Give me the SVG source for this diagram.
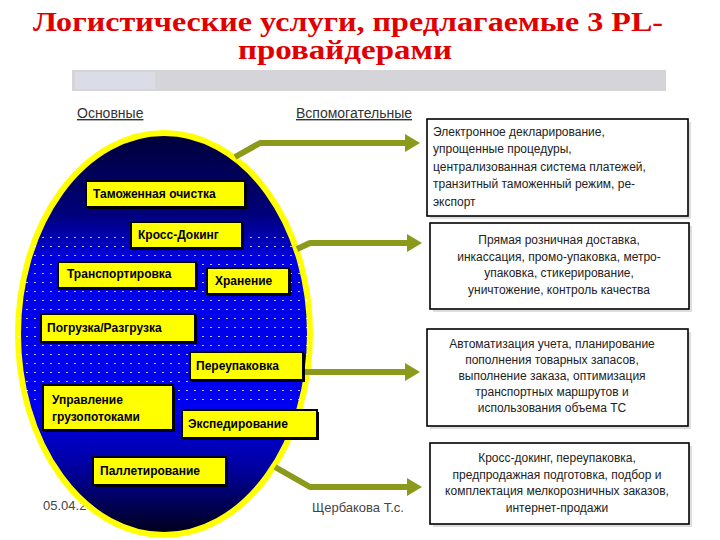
<svg xmlns="http://www.w3.org/2000/svg" width="720" height="540" viewBox="0 0 720 540">
<style>
.title{font-family:"Liberation Serif","Times New Roman",serif;font-weight:bold;font-size:28px;fill:#e00000;text-anchor:middle}
.hdr{font-family:"Liberation Sans",Arial,sans-serif;font-size:14px;fill:#333;text-decoration:underline}
.foot{font-family:"Liberation Sans",Arial,sans-serif;font-size:13px;fill:#444}
.nbox{fill:#ffff00;stroke:#000;stroke-width:2}
.nsh{fill:#000}
.ntxt{font-family:"Liberation Sans",Arial,sans-serif;font-weight:bold;font-size:12px;fill:#000}
.rbox{fill:#fff;stroke:#000;stroke-width:1.6}
.rsh{fill:#ddd}
.rtxt{font-family:"Liberation Sans",Arial,sans-serif;font-size:12px;fill:#222}
.c{text-anchor:middle}
.arr{fill:none;stroke:#8b9a1b;stroke-width:6;stroke-linejoin:round;marker-end:url(#ah)}
</style>
<defs>
<linearGradient id="eg" x1="0" y1="0" x2="0" y2="1">
<stop offset="0" stop-color="#000038"/>
<stop offset="0.2" stop-color="#00007a"/>
<stop offset="0.32" stop-color="#0000e6"/>
<stop offset="0.68" stop-color="#0000f0"/>
<stop offset="0.84" stop-color="#00009a"/>
<stop offset="1" stop-color="#000018"/>
</linearGradient>
<pattern id="dots" width="8" height="9" patternUnits="userSpaceOnUse">
<rect x="2" y="3" width="2" height="1" fill="#ffffff" opacity="0.75"/>
</pattern>
<clipPath id="ec"><ellipse cx="164" cy="334" rx="146" ry="201"/></clipPath>
<marker id="ah" markerUnits="userSpaceOnUse" markerWidth="18" markerHeight="20" refX="5" refY="9" orient="auto">
<path d="M0,0 L15,9 L0,18 Z" fill="#8b9a1b"/>
</marker>
</defs>
<rect width="720" height="540" fill="#fff"/>
<g id="title">
<text class="title" x="348" y="31" textLength="630" lengthAdjust="spacingAndGlyphs">Логистические услуги, предлагаемые 3 PL-</text>
<text class="title" x="345" y="59" textLength="214" lengthAdjust="spacingAndGlyphs">провайдерами</text>
</g>
<g id="bar">
<rect x="72" y="70" width="594" height="21" fill="#d5d5d9"/>
<rect x="75" y="72" width="80" height="17" fill="#dcdce6"/>
</g>
<g id="headers">
<text class="hdr" x="77" y="118">Основные</text>
<text class="hdr" x="296" y="118">Вспомогательные</text>
</g>
<text class="foot" x="43" y="510">05.04.2</text>
<g id="ellipse">
<ellipse cx="164" cy="334" rx="146" ry="201" fill="url(#eg)" stroke="#ffff00" stroke-width="6"/>
<rect x="10" y="232" width="310" height="175" fill="url(#dots)" clip-path="url(#ec)"/>
</g>
<text class="foot" x="312" y="512">Щербакова Т.с.</text>
<g id="connectors">
<polyline class="arr" points="235,157 260,143 410,143"/>
<polyline class="arr" points="297,249 310,243 412,243"/>
<polyline class="arr" points="304,372 410,372"/>
<polyline class="arr" points="275,467 310,487 412,487"/>
</g>
<g id="n1"><rect class="nsh" x="88" y="183" width="159" height="26"/><rect class="nbox" x="86" y="181" width="159" height="26"/><text class="ntxt" x="93" y="198">Таможенная очистка</text></g>
<g id="n2"><rect class="nsh" x="133" y="224" width="111" height="26"/><rect class="nbox" x="131" y="222" width="111" height="26"/><text class="ntxt" x="138" y="239">Кросс-Докинг</text></g>
<g id="n3"><rect class="nsh" x="60" y="264" width="138" height="26"/><rect class="nbox" x="58" y="262" width="138" height="26"/><text class="ntxt" x="67" y="278">Транспортировка</text></g>
<g id="n4"><rect class="nsh" x="209" y="270" width="82" height="26"/><rect class="nbox" x="207" y="268" width="82" height="26"/><text class="ntxt" x="215" y="285">Хранение</text></g>
<g id="n5"><rect class="nsh" x="43" y="316" width="154" height="28"/><rect class="nbox" x="41" y="314" width="154" height="28"/><text class="ntxt" x="47" y="332">Погрузка/Разгрузка</text></g>
<g id="n6"><rect class="nsh" x="192" y="354" width="113" height="28"/><rect class="nbox" x="190" y="352" width="113" height="28"/><text class="ntxt" x="196" y="370">Переупаковка</text></g>
<g id="n7"><rect class="nsh" x="45" y="387" width="130" height="45"/><rect class="nbox" x="43" y="385" width="130" height="45"/><text class="ntxt" x="52" y="404">Управление</text><text class="ntxt" x="52" y="421">грузопотоками</text></g>
<g id="n8"><rect class="nsh" x="184" y="412" width="135" height="28"/><rect class="nbox" x="182" y="410" width="135" height="28"/><text class="ntxt" x="188" y="428">Экспедирование</text></g>
<g id="n9"><rect class="nsh" x="95" y="459" width="133" height="28"/><rect class="nbox" x="93" y="457" width="133" height="28"/><text class="ntxt" x="100" y="475">Паллетирование</text></g>
<g id="b1"><rect class="rsh" x="430" y="122" width="261" height="97"/><rect class="rbox" x="427" y="119" width="261" height="97"/>
<text class="rtxt" x="433" y="136">Электронное декларирование,</text>
<text class="rtxt" x="433" y="153">упрощенные процедуры,</text>
<text class="rtxt" x="433" y="171">централизованная система платежей,</text>
<text class="rtxt" x="433" y="188">транзитный таможенный режим, ре-</text>
<text class="rtxt" x="433" y="206">экспорт</text></g>
<g id="b2"><rect class="rsh" x="433" y="226" width="259" height="86"/><rect class="rbox" x="430" y="223" width="259" height="86"/>
<text class="rtxt c" x="559" y="244">Прямая розничная доставка,</text>
<text class="rtxt c" x="559" y="261">инкассация, промо-упаковка, метро-</text>
<text class="rtxt c" x="559" y="277">упаковка, стикерирование,</text>
<text class="rtxt c" x="559" y="294">уничтожение, контроль качества</text></g>
<g id="b3"><rect class="rsh" x="430" y="332" width="261" height="97"/><rect class="rbox" x="427" y="329" width="261" height="97"/>
<text class="rtxt c" x="552" y="348">Автоматизация учета, планирование</text>
<text class="rtxt c" x="552" y="364">пополнения товарных запасов,</text>
<text class="rtxt c" x="552" y="380">выполнение заказа, оптимизация</text>
<text class="rtxt c" x="552" y="396">транспортных маршрутов и</text>
<text class="rtxt c" x="552" y="412">использования объема ТС</text></g>
<g id="b4"><rect class="rsh" x="433" y="446" width="259" height="81"/><rect class="rbox" x="430" y="443" width="259" height="81"/>
<text class="rtxt c" x="557" y="462">Кросс-докинг, переупаковка,</text>
<text class="rtxt c" x="557" y="479">предпродажная подготовка, подбор и</text>
<text class="rtxt c" x="557" y="495">комплектация мелкорозничных заказов,</text>
<text class="rtxt c" x="557" y="512">интернет-продажи</text></g>
</svg>
